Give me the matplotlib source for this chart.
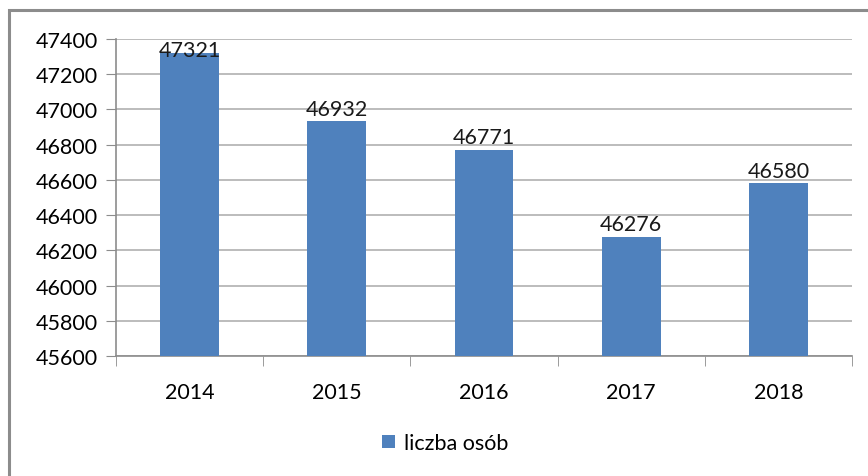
import matplotlib.pyplot as plt
from matplotlib.patches import Rectangle

years = ["2014", "2015", "2016", "2017", "2018"]
people = [47321, 46932, 46771, 46276, 46580]
y_ticks = list(range(45600, 47401, 200))

plt.rcParams["font.family"] = ["Lato", "DejaVu Sans"]
FS = 15.5


def main():
    fig = plt.figure(figsize=(8.68, 4.77), dpi=100)
    ax = fig.add_axes([0.1336, 0.2516, 0.848, 0.6645])

    # outer chart border like the spreadsheet frame
    fig.patches.append(Rectangle((9 / 868, -0.01), 1.0, 1 - 11 / 477 + 0.01,
                                 transform=fig.transFigure, fill=False,
                                 edgecolor="#8c8c8c", linewidth=2.2))

    x = range(len(years))
    bars = ax.bar(x, people, width=0.4, color="#4F81BD", label="liczba osób",
                  zorder=3)
    for rect, v in zip(bars, people):
        # labels that would stick out of the plot area get pushed down (as Excel does)
        dy = 2 if v < 47200 else -5
        ax.annotate(str(v), (rect.get_x() + rect.get_width() / 2, v),
                    xytext=(0, dy), textcoords="offset points",
                    ha="center", va="bottom", fontsize=FS, color="#1a1a1a",
                    zorder=4)

    ax.set_ylim(45600, 47400)
    ax.set_yticks(y_ticks)
    ax.set_yticklabels([str(t) for t in y_ticks])
    ax.set_xlim(-0.5, len(years) - 0.5)
    ax.set_xticks(list(x))
    ax.set_xticklabels(years)
    ax.set_xticks([i + 0.5 for i in range(-1, len(years))], minor=True)
    ax.tick_params(axis="x", which="major", length=0, pad=19, labelsize=FS)
    ax.tick_params(axis="x", which="minor", length=7, color="#8c8c8c",
                   direction="out")
    ax.tick_params(axis="y", length=7, color="#8c8c8c", labelsize=FS, pad=6)

    ax.grid(axis="y", color="#b0b0b0", linewidth=1.2, zorder=0)
    for side in ["top", "right"]:
        ax.spines[side].set_visible(False)
    for side in ["left", "bottom"]:
        ax.spines[side].set_color("#8c8c8c")
        ax.spines[side].set_linewidth(1.2)

    fig.legend(loc="center", bbox_to_anchor=(445 / 868, 1 - 444 / 477),
               frameon=False, fontsize=FS, handlelength=0.6,
               handleheight=0.6, handletextpad=0.4)

    fig.savefig("out.png", dpi=100)


if __name__ == "__main__":
    main()
